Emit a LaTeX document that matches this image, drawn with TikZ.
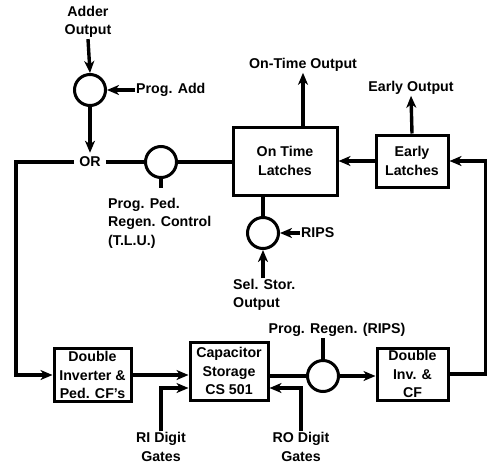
\documentclass[tikz,border=0pt]{standalone}
\usepackage{fontspec}
\setmainfont{Liberation Sans}
\usetikzlibrary{arrows.meta,positioning}

\begin{document}
\begin{tikzpicture}[x=1pt,y=-1pt,
  every node/.style={font=\fontsize{14.2}{18.5}\selectfont\bfseries},
  blk/.style={draw,line width=3pt,align=center,inner sep=0pt},
  gate/.style={draw,circle,line width=3pt,minimum size=31pt,inner sep=0pt},
  lbl/.style={align=center,inner sep=1pt},
  wire/.style={line width=3.4pt},
  arr/.style={wire,-{Stealth[length=12pt,width=10pt,inset=3.5pt]}}]
\useasboundingbox (0,0) rectangle (487,466);
\coordinate (lft) at (16,0);
\coordinate (rgt) at (485.5,0);

\node[blk,minimum width=104pt,minimum height=68pt] (ontime) at (285,161) {On Time\\Latches};
\node[blk,minimum width=72pt,minimum height=52pt] (early) at (412,161) {Early\\Latches};
\node[blk,minimum width=77pt,minimum height=53pt] (dinv) at (92.5,375) {Double\\Inverter \&\\Ped. CF's};
\node[blk,minimum width=78pt,minimum height=58pt] (cap) at (229,371) {Capacitor\\Storage\\CS 501};
\node[blk,minimum width=71pt,minimum height=52pt] (dinvcf) at (412.5,374) {Double\\Inv. \&\\CF};

\node[gate] (gadd) at (90,90) {};
\node[gate] (gped) at (161,162) {};
\node[gate] (grips) at (263,233) {};
\node[gate] (gregen) at (323,376) {};

\node[lbl] (adder) at (88,22) {Adder\\Output};
\node[lbl,anchor=west] (progadd) at (135,90) {Prog. Add};
\node[lbl,inner xsep=5pt,inner ysep=4pt] (or) at (90,162) {OR};
\node[lbl,align=left,anchor=north west] (ped) at (107,197) {Prog. Ped.\\Regen. Control\\(T.L.U.)};
\node[lbl] (ontimeout) at (303,65) {On-Time Output};
\node[lbl] (earlyout) at (411,88) {Early Output};
\node[lbl,anchor=west] (rips) at (300,233) {RIPS};
\node[lbl,align=left,anchor=north west] (selstor) at (232,278) {Sel. Stor.\\Output};
\node[lbl] (progregen) at (337,330) {Prog. Regen. (RIPS)};
\node[lbl] (ri) at (161,447) {RI Digit\\Gates};
\node[lbl] (ro) at (301,447) {RO Digit\\Gates};

\draw[arr] (adder.south) -- (gadd.north);
\draw[arr] (progadd.west) -- (gadd.east);
\draw[arr] (gadd.south) -- (or.north);
\draw[wire] (or.east) -- (gped.west);
\draw[wire] (gped.east) -- (gped.east -| ontime.west);
\draw[wire] (gped.south) -- ++(0,9);
\draw[arr] (or.west) -- (or.west -| lft) |- (dinv.west);
\draw[arr] (ontime.north -| ontimeout) -- (ontimeout.south);
\draw[arr] (early.west) -- (ontime.east);
\draw[arr] (early.north) -- (earlyout.south);
\draw[wire] (ontime.south -| grips) -- (grips.north);
\draw[arr] (rips.west) -- (grips.east);
\draw[arr] (grips.south |- selstor.north) -- (grips.south);
\draw[arr] (dinv.east) -- (dinv.east -| cap.west);
\draw[arr] (ri.north) |- ([yshift=-17pt]cap.west);
\draw[arr] (ro.north) |- ([yshift=-17pt]cap.east);
\draw[wire] (gregen.west -| cap.east) -- (gregen.west);
\draw[wire] (progregen.south -| gregen) -- (gregen.north);
\draw[arr] (gregen.east) -- (gregen.east -| dinvcf.west);
\draw[arr] (dinvcf.east) -- (dinvcf.east -| rgt) |- (early.east);
\end{tikzpicture}
\end{document}
